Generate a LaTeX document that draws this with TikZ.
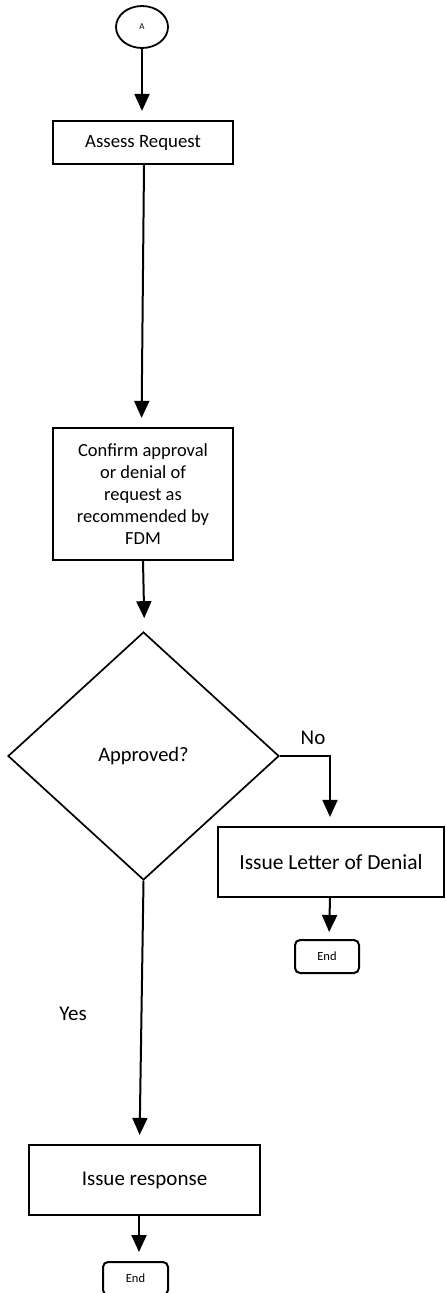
\documentclass[tikz,border=0pt]{standalone}
\usepackage{fontspec}
\setmainfont{Carlito}
\usetikzlibrary{arrows.meta,shapes.geometric}
\begin{document}
\begin{tikzpicture}[x=1pt,y=-1pt,
  box/.style={draw, line width=2.2pt, inner sep=0pt, align=center},
  endbox/.style={draw, line width=2pt, rounded corners=5pt, inner sep=0pt,
    minimum width=64pt, minimum height=33pt, font=\fontsize{12.5}{14}\selectfont},
  arr/.style={line width=2pt, -{Triangle[width=15pt,length=17pt]}, shorten >=9pt},
  lbl/.style={inner sep=0pt, font=\fontsize{21}{24}\selectfont}]
\useasboundingbox (0,0) rectangle (446,1293);
\fill[white] (0,0) rectangle (446,1293);

\node[draw, ellipse, line width=1.8pt, minimum width=52pt, minimum height=42pt,
  inner sep=0pt, font=\fontsize{9}{10}\selectfont] (A) at (142,27) {A};
\node[box, minimum width=180pt, minimum height=43pt,
  font=\fontsize{18.8}{22}\selectfont] (assess) at (143,142.5) {Assess Request};
\node[box, minimum width=180pt, minimum height=132pt,
  font=\fontsize{18.5}{22}\selectfont] (confirm) at (143,494)
  {Confirm approval\\or denial of\\request as\\recommended by\\FDM};
\node[draw, diamond, line width=1.7pt, minimum width=271pt, minimum height=248pt,
  inner sep=0pt, font=\fontsize{20.5}{24}\selectfont] (dia) at (143.5,756) {Approved?};
\node[box, minimum width=226pt, minimum height=70pt,
  font=\fontsize{21.5}{24}\selectfont] (denial) at (331,862) {Issue Letter of Denial};
\node[endbox] (end1) at (327,956.5) {End};
\node[box, minimum width=231pt, minimum height=70pt,
  font=\fontsize{21}{24}\selectfont] (resp) at (144.5,1180) {Issue response};
\node[endbox, minimum width=65pt] (end2) at (135.5,1278.5) {End};

\node[lbl] (no) at (313,738) {No};
\node[lbl] (yes) at (73,1014) {Yes};

\draw[arr] (A.south) -- (assess.north -| A.south);
\draw[arr] ([xshift=1pt]assess.south) -- ([xshift=-1.5pt]confirm.north);
\draw[arr, shorten >=13pt] (confirm.south) -- ([xshift=1pt]dia.north);
\draw[arr] (dia.east) -| ([xshift=-1pt]denial.north);
\draw[arr, shorten >=7pt] ([xshift=-1pt]denial.south) -- ([xshift=2pt]end1.north);
\draw[arr] (dia.south) -- ([xshift=-5pt]resp.north);
\draw[arr] ([xshift=-5.5pt]resp.south) -- ([xshift=3.5pt]end2.north);
\end{tikzpicture}
\end{document}
